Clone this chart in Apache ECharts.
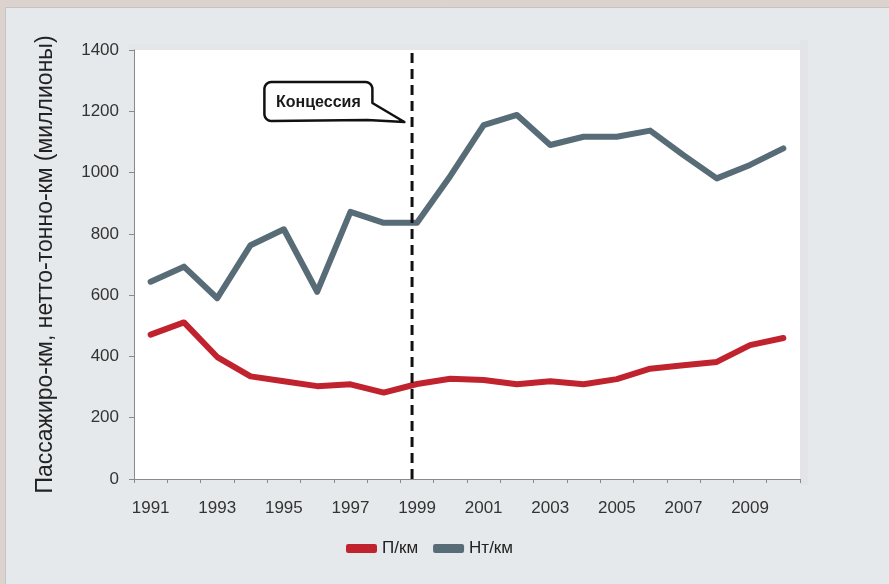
<!DOCTYPE html>
<html>
<head>
<meta charset="utf-8">
<script src="https://cdn.jsdelivr.net/npm/echarts@6/dist/echarts.min.js"></script>
<style>
html,body{margin:0;padding:0;background:#dcd3cf;}
#c{width:889px;height:584px;}
</style>
</head>
<body>
<div id="c"></div>
<script>
// ---- data ----
const years = ['1991','1992','1993','1994','1995','1996','1997','1998','1999','2000',
               '2001','2002','2003','2004','2005','2006','2007','2008','2009','2010'];
const passengerKm = [471, 511, 398, 335, 319, 303, 309, 282, 310, 327,
                     323, 309, 319, 309, 326, 360, 371, 382, 437, 460];
const netTonneKm = [644, 693, 590, 763, 815, 611, 872, 836, 836, 989,
                    1155, 1188, 1090, 1117, 1117, 1137, 1057, 981, 1025, 1079];
const yTicks = [0, 200, 400, 600, 800, 1000, 1200, 1400];
const seriesNames = ['П/км', 'Нт/км'];
const concessionYear = 1998.85;
const calloutText = 'Концессия';
const calloutTip = [1998.62, 1165];
const yName = 'Пассажиро-км, нетто-тонно-км (миллионы)';

const FONT = '"Liberation Sans", Arial, sans-serif';
const RED = '#c1232e';
const GREY = '#586c78';

const chart = echarts.init(document.getElementById('c'), null, {renderer: 'canvas'});

const option = {
  backgroundColor: 'transparent',
  animation: false,
  textStyle: {fontFamily: FONT},
  grid: {left: 134, top: 50, right: 89, bottom: 105, show: true, backgroundColor: '#ffffff', borderWidth: 0},
  legend: {
    data: seriesNames,
    left: 341, top: 535,
    itemWidth: 31, itemHeight: 9, itemGap: 15,
    icon: 'roundRect',
    textStyle: {fontFamily: FONT, fontSize: 17, color: '#222', padding: [0,0,0,0]},
  },
  xAxis: [{
    type: 'category', data: years, boundaryGap: true,
    axisLine: {lineStyle: {color: '#8a8a8a', width: 1}},
    axisTick: {show: true, interval: 0, length: 4, lineStyle: {color: '#8a8a8a'}},
    axisLabel: {interval: 1, color: '#333', fontSize: 17, fontFamily: FONT, margin: 21},
    splitLine: {show: false}
  }, {
    type: 'value', min: 1990.5, max: 2010.5, show: false
  }],
  yAxis: [{
    type: 'value', min: yTicks[0], max: yTicks[yTicks.length-1], interval: 200,
    name: yName, nameLocation: 'middle', nameGap: 77, nameRotate: 90,
    nameTextStyle: {fontFamily: FONT, fontSize: 23, color: '#222'},
    axisLine: {show: true, lineStyle: {color: '#8a8a8a', width: 1}},
    axisTick: {show: true, length: 5, lineStyle: {color: '#8a8a8a'}},
    axisLabel: {color: '#333', fontSize: 17, fontFamily: FONT, margin: 15, formatter: v => String(v)},
    splitLine: {show: false}
  }],
  series: [
    {
      name: seriesNames[0], type: 'line', data: passengerKm,
      symbol: 'none', lineStyle: {color: RED, width: 6, join: 'round', cap: 'round'},
      itemStyle: {color: RED}, z: 3
    },
    {
      name: seriesNames[1], type: 'line', data: netTonneKm,
      symbol: 'none', lineStyle: {color: GREY, width: 6, join: 'round', cap: 'round'},
      itemStyle: {color: GREY}, z: 3
    },
    {
      name: 'concession', type: 'line', xAxisIndex: 1, yAxisIndex: 0,
      data: [[concessionYear, yTicks[0]], [concessionYear, yTicks[yTicks.length-1]]],
      symbol: 'none', lineStyle: {color: '#111', width: 3, type: [10, 6]},
      silent: true, z: 4
    }
  ]
};
chart.setOption(option);

function arcPts(cx, cy, r, a0, a1) {
  const out = [];
  for (let i = 0; i <= 6; i++) {
    const a = a0 + (a1 - a0) * i / 6;
    out.push([cx + r*Math.cos(a), cy + r*Math.sin(a)]);
  }
  return out;
}
const tip = chart.convertToPixel({xAxisIndex: 1, yAxisIndex: 0}, calloutTip);
const bw = 108, bh = 39, br = 7;
const bx = tip[0] - 140, by = tip[1] - 40;
let pts = [];
pts = pts.concat(arcPts(bx + br, by + br, br, Math.PI, 1.5*Math.PI));
pts = pts.concat(arcPts(bx + bw - br, by + br, br, -Math.PI/2, 0));
pts.push([bx + bw, by + 21]);
pts.push(tip);
pts.push([bx + bw - 5, by + bh - 1]);
pts = pts.concat(arcPts(bx + br, by + bh - br, br, Math.PI/2, Math.PI));

chart.setOption({
  graphic: [
    {type: 'rect', z: -10, silent: true, shape: {x: 5.5, y: 7.5, width: 900, height: 600},
     style: {fill: '#e6e9ec', stroke: '#c4c2c2', lineWidth: 1}},
    {type: 'rect', z: -9, silent: true, shape: {x: 800, y: 40, width: 8, height: 445},
     style: {fill: '#e3e4e8'}},
    {type: 'rect', z: -9, silent: true, shape: {x: 128, y: 44, width: 672, height: 6},
     style: {fill: '#e4e6e9'}},
    {type: 'polygon', z: 100, silent: true, shape: {points: pts},
     style: {fill: '#ffffff', stroke: '#111', lineWidth: 2.5, lineJoin: 'round'}},
    {type: 'text', z: 101, silent: true,
     style: {x: bx + bw/2, y: by + bh/2 + 1, text: calloutText, textAlign: 'center', textVerticalAlign: 'middle',
             font: 'bold 16px ' + FONT, fill: '#1a1a1a'}}
  ]
});
</script>
</body>
</html>
